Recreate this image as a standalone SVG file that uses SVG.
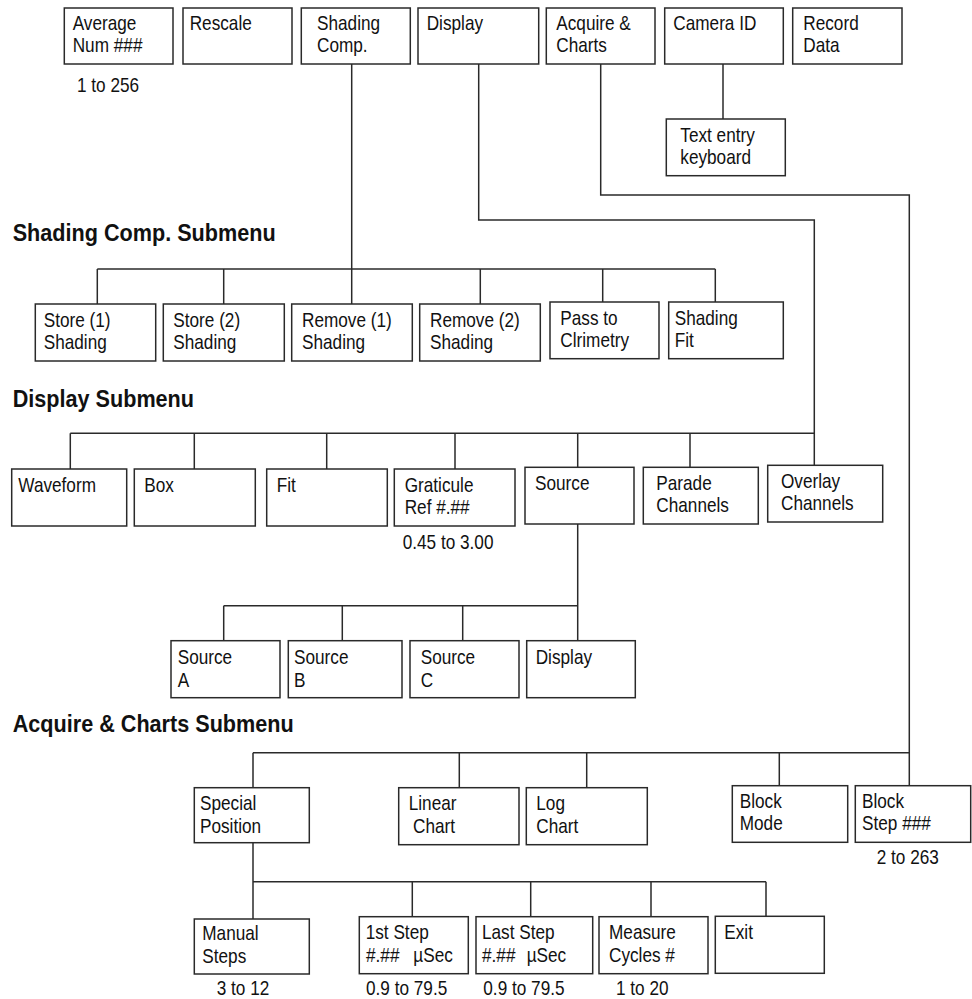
<svg xmlns="http://www.w3.org/2000/svg" width="972" height="999" viewBox="0 0 972 999">
  <style>
    .box { fill: #ffffff; stroke: #2a2a2a; stroke-width: 1.5; }
    .wire { fill: none; stroke: #2a2a2a; stroke-width: 1.5; }
    .t { font-family: "Liberation Sans", Arial, Helvetica, sans-serif; font-size: 20px; fill: #111111;
         transform-box: fill-box; transform-origin: 0 0; transform: scaleX(0.86); }
    .h { font-family: "Liberation Sans", Arial, Helvetica, sans-serif; font-size: 23px; font-weight: bold; fill: #111111;
         transform-box: fill-box; transform-origin: 0 0; transform: scaleX(0.94); }
  </style>
  <rect width="972" height="999" fill="#ffffff"/>

  <!-- connectors -->
  <g id="connectors" class="wire">
    <!-- Camera ID to keyboard -->
    <path d="M723 64 V119"/>
    <!-- Shading Comp. tree -->
    <path d="M351.7 64 V304"/>
    <path d="M97.3 269 H715.3"/>
    <path d="M97.3 269 V304 M223.7 269 V304 M480.3 269 V304 M602.7 269 V302 M715.3 269 V302"/>
    <!-- Display tree -->
    <path d="M478.7 64 V220 H814.3 V465.3"/>
    <path d="M70.3 433.3 H814.3"/>
    <path d="M70.3 433.3 V469 M194.3 433.3 V469 M326.7 433.3 V469 M455 433.3 V469 M577.7 433.3 V467.3 M690 433.3 V467.3"/>
    <!-- Source tree -->
    <path d="M577.7 524 V640.7"/>
    <path d="M223.7 605.7 H577.7"/>
    <path d="M223.7 605.7 V640.7 M342.3 605.7 V640.7 M462.7 605.7 V640.7"/>
    <!-- Acquire & Charts tree -->
    <path d="M600.7 64 V195 H909.3 V785.7"/>
    <path d="M253 752.7 H909.3"/>
    <path d="M253 752.7 V787.7 M459.3 752.7 V787.7 M586.7 752.7 V787.7 M779.3 752.7 V785.7"/>
    <!-- Special Position tree -->
    <path d="M253 842.7 V919"/>
    <path d="M253 881.7 H766"/>
    <path d="M412.3 881.7 V916.7 M530.7 881.7 V916.7 M651 881.7 V916.7 M766 881.7 V916.3"/>
  </g>

  <!-- section headings -->
  <text class="h" x="12.7" y="240.7">Shading Comp. Submenu</text>
  <text class="h" x="12.7" y="406.7">Display Submenu</text>
  <text class="h" x="12.7" y="732.3">Acquire &amp; Charts Submenu</text>

  <!-- main menu -->
  <g id="average">
    <rect class="box" x="64.3" y="8" width="108.7" height="56"/>
    <text class="t" x="72.7" y="30">Average</text>
    <text class="t" x="72.7" y="52">Num ###</text>
    <text class="t" x="77" y="92">1 to 256</text>
  </g>
  <g id="rescale">
    <rect class="box" x="183" y="8" width="109" height="56"/>
    <text class="t" x="189.7" y="30">Rescale</text>
  </g>
  <g id="shading-comp">
    <rect class="box" x="301.3" y="8" width="109" height="56"/>
    <text class="t" x="317" y="30">Shading</text>
    <text class="t" x="317" y="52">Comp.</text>
  </g>
  <g id="display">
    <rect class="box" x="418" y="8" width="120.7" height="56"/>
    <text class="t" x="426.7" y="30">Display</text>
  </g>
  <g id="acquire-charts">
    <rect class="box" x="546.3" y="8" width="108.7" height="56"/>
    <text class="t" x="556.3" y="30">Acquire &amp;</text>
    <text class="t" x="556.3" y="52">Charts</text>
  </g>
  <g id="camera-id">
    <rect class="box" x="664.7" y="8" width="118.6" height="56"/>
    <text class="t" x="673.3" y="30">Camera ID</text>
  </g>
  <g id="record-data">
    <rect class="box" x="792.7" y="8" width="109.3" height="56"/>
    <text class="t" x="803.3" y="30">Record</text>
    <text class="t" x="803.3" y="52">Data</text>
  </g>
  <g id="text-entry">
    <rect class="box" x="666.3" y="119" width="119" height="56.7"/>
    <text class="t" x="680.3" y="142">Text entry</text>
    <text class="t" x="680.3" y="164">keyboard</text>
  </g>

  <!-- shading comp. submenu -->
  <g id="store1">
    <rect class="box" x="35.3" y="304" width="120.4" height="57"/>
    <text class="t" x="43.7" y="327.3">Store (1)</text>
    <text class="t" x="43.7" y="349.3">Shading</text>
  </g>
  <g id="store2">
    <rect class="box" x="163.3" y="304" width="121" height="57"/>
    <text class="t" x="173.3" y="327.3">Store (2)</text>
    <text class="t" x="173.3" y="349.3">Shading</text>
  </g>
  <g id="remove1">
    <rect class="box" x="291.7" y="304" width="120.6" height="57"/>
    <text class="t" x="302" y="327.3">Remove (1)</text>
    <text class="t" x="302" y="349.3">Shading</text>
  </g>
  <g id="remove2">
    <rect class="box" x="419.7" y="304" width="120.6" height="57"/>
    <text class="t" x="430" y="327.3">Remove (2)</text>
    <text class="t" x="430" y="349.3">Shading</text>
  </g>
  <g id="pass-to">
    <rect class="box" x="550" y="302" width="109" height="56.7"/>
    <text class="t" x="560.3" y="325.3">Pass to</text>
    <text class="t" x="560.3" y="347.3">Clrimetry</text>
  </g>
  <g id="shading-fit">
    <rect class="box" x="668.7" y="302" width="114.6" height="56.7"/>
    <text class="t" x="674.7" y="325.3">Shading</text>
    <text class="t" x="674.7" y="347.3">Fit</text>
  </g>

  <!-- display submenu -->
  <g id="waveform">
    <rect class="box" x="11.7" y="469" width="115" height="57"/>
    <text class="t" x="18.3" y="492.5">Waveform</text>
  </g>
  <g id="box-item">
    <rect class="box" x="134.3" y="469" width="121" height="57"/>
    <text class="t" x="144.3" y="492.5">Box</text>
  </g>
  <g id="fit">
    <rect class="box" x="266.7" y="469" width="120.6" height="57"/>
    <text class="t" x="276.7" y="492.5">Fit</text>
  </g>
  <g id="graticule">
    <rect class="box" x="394.3" y="469" width="120.7" height="57"/>
    <text class="t" x="404.7" y="492.5">Graticule</text>
    <text class="t" x="404.7" y="514">Ref #.##</text>
    <text class="t" x="402.7" y="549">0.45 to 3.00</text>
  </g>
  <g id="source">
    <rect class="box" x="525" y="467.3" width="109" height="56.7"/>
    <text class="t" x="535" y="490.5">Source</text>
  </g>
  <g id="parade">
    <rect class="box" x="643.3" y="467.3" width="115" height="56.7"/>
    <text class="t" x="656.3" y="490.5">Parade</text>
    <text class="t" x="656.3" y="512.5">Channels</text>
  </g>
  <g id="overlay">
    <rect class="box" x="767.7" y="465.3" width="115" height="56.7"/>
    <text class="t" x="781" y="488.5">Overlay</text>
    <text class="t" x="781" y="510.5">Channels</text>
  </g>

  <!-- source submenu -->
  <g id="source-a">
    <rect class="box" x="171" y="640.7" width="109" height="57"/>
    <text class="t" x="177.7" y="664.3">Source</text>
    <text class="t" x="177.7" y="687.5">A</text>
  </g>
  <g id="source-b">
    <rect class="box" x="288.3" y="640.7" width="113.7" height="57"/>
    <text class="t" x="294" y="664.3">Source</text>
    <text class="t" x="294" y="687.5">B</text>
  </g>
  <g id="source-c">
    <rect class="box" x="410" y="640.7" width="109" height="57"/>
    <text class="t" x="420.7" y="664.3">Source</text>
    <text class="t" x="420.7" y="687.5">C</text>
  </g>
  <g id="source-display">
    <rect class="box" x="526.7" y="640.7" width="108.6" height="57"/>
    <text class="t" x="535.7" y="664.3">Display</text>
  </g>

  <!-- acquire & charts submenu -->
  <g id="special-position">
    <rect class="box" x="194.3" y="787.7" width="115" height="55"/>
    <text class="t" x="200" y="810.3">Special</text>
    <text class="t" x="200" y="832.7">Position</text>
  </g>
  <g id="linear-chart">
    <rect class="box" x="398.7" y="787.7" width="120.3" height="57"/>
    <text class="t" x="408.7" y="810.3">Linear</text>
    <text class="t" x="413" y="832.7">Chart</text>
  </g>
  <g id="log-chart">
    <rect class="box" x="526.3" y="787.7" width="121" height="57"/>
    <text class="t" x="536.3" y="810.3">Log</text>
    <text class="t" x="536.3" y="832.7">Chart</text>
  </g>
  <g id="block-mode">
    <rect class="box" x="732.3" y="785.7" width="115.4" height="56.6"/>
    <text class="t" x="739.7" y="808.5">Block</text>
    <text class="t" x="739.7" y="830.5">Mode</text>
  </g>
  <g id="block-step">
    <rect class="box" x="855.3" y="785.7" width="115.4" height="56.6"/>
    <text class="t" x="862" y="808.5">Block</text>
    <text class="t" x="862" y="830.5">Step ###</text>
    <text class="t" x="876.7" y="864">2 to 263</text>
  </g>

  <!-- special position submenu -->
  <g id="manual-steps">
    <rect class="box" x="194.3" y="919" width="115" height="55"/>
    <text class="t" x="202.3" y="940">Manual</text>
    <text class="t" x="202.3" y="963">Steps</text>
    <text class="t" x="216.7" y="995">3 to 12</text>
  </g>
  <g id="first-step">
    <rect class="box" x="359.3" y="916.7" width="109" height="57"/>
    <text class="t" x="365.7" y="939.5">1st Step</text>
    <text class="t" x="366" y="962">#.##</text>
    <text class="t" x="413.3" y="962">µSec</text>
    <text class="t" x="366" y="995">0.9 to 79.5</text>
  </g>
  <g id="last-step">
    <rect class="box" x="476" y="916.7" width="116.7" height="57"/>
    <text class="t" x="482" y="939.5">Last Step</text>
    <text class="t" x="482" y="962">#.##</text>
    <text class="t" x="526.7" y="962">µSec</text>
    <text class="t" x="483.3" y="995">0.9 to 79.5</text>
  </g>
  <g id="measure-cycles">
    <rect class="box" x="599" y="916.7" width="109" height="57"/>
    <text class="t" x="609" y="939.5">Measure</text>
    <text class="t" x="609" y="962">Cycles #</text>
    <text class="t" x="616" y="995">1 to 20</text>
  </g>
  <g id="exit">
    <rect class="box" x="715.3" y="916.3" width="109" height="57"/>
    <text class="t" x="724.3" y="939.5">Exit</text>
  </g>
</svg>
